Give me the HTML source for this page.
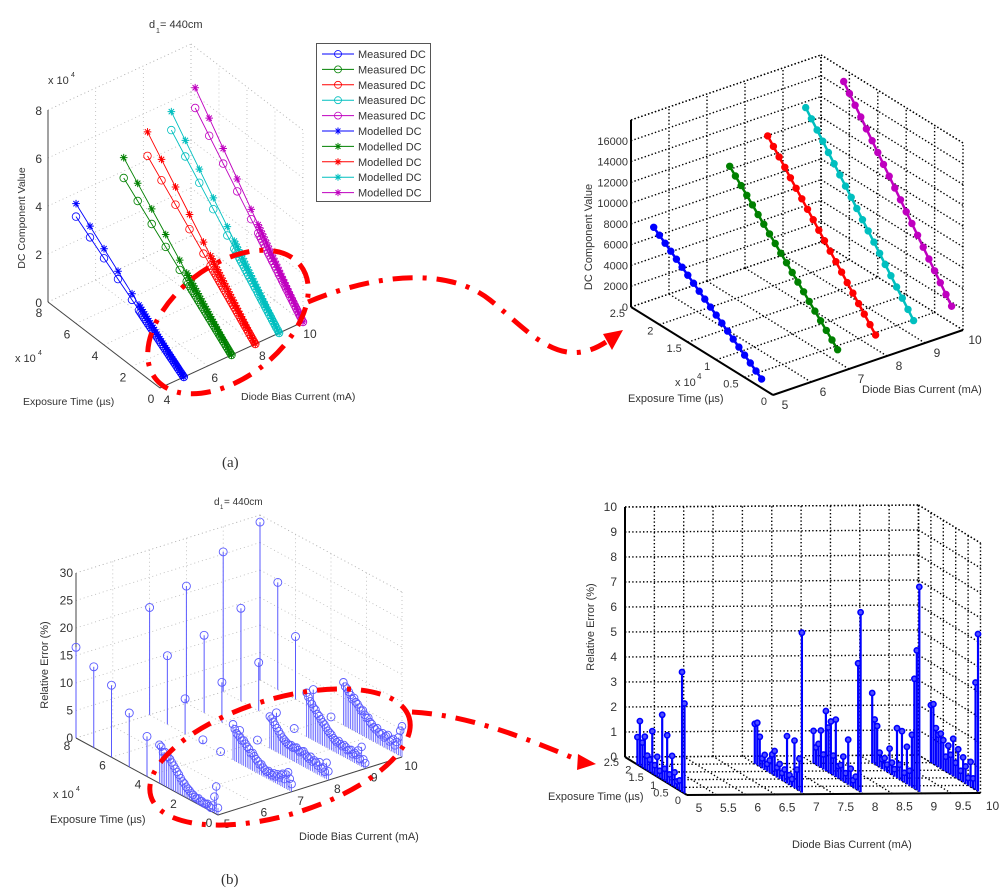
<!DOCTYPE html>
<html><head><meta charset="utf-8"><style>
html,body{margin:0;padding:0;background:#fff;}
svg{display:block;font-family:"Liberation Sans",Arial,sans-serif;}
text{fill:#333;}
</style></head><body>
<svg id="fig" width="1000" height="896" viewBox="0 0 1000 896" xmlns="http://www.w3.org/2000/svg">
<rect width="1000" height="896" fill="#fff"/>
<g id="panelA"></g>
<g id="panelB"></g>
<g id="panelC"></g>
<g id="panelD"></g>
<g id="annot"></g>
</svg>
<script>
// ---------- DATA ----------
const currentsA = [5, 7, 8, 9, 10];
const exposureA = [0,1000,2000,3000,4000,5000,6000,7000,8000,9000,10000,11000,12000,13000,14000,15000,16000,17000,18000,19000,20000,21000,22000,23000,24000,25000,26000,27000,28000,29000,30000,31000,32000,37000,47000,57000,67000,77000];
const measuredSlopeA = [0.42, 0.51, 0.57, 0.65, 0.71];
const modelledSlopeA = [0.49, 0.62, 0.70, 0.75, 0.82];
const currentsB = [5, 7, 8, 9, 10];
const exposureB = [2000,3000,4000,5000,6000,7000,8000,9000,10000,11000,12000,13000,14000,15000,16000,17000,18000,19000,20000,21000];
const slopeB = [0.43, 0.59, 0.67, 0.74, 0.80];
const zTicksB = [0,2000,4000,6000,8000,10000,12000,14000,16000];
const currentsC = [5, 7, 8, 9, 10];
const sparseExpC = [80000, 70000, 60000, 50000, 40000];
const sparseErr5 = [16.5, 14.7, 13.1, 9.8, 7.3];
const sparseErr7 = [19.5, 12.5, 6.4, 0.7, 0.3];
const sparseErr8 = [21.3, 14.1, 7.3, 0.3, 0.3];
const sparseErr9 = [25.4, 16.9, 8.8, 1.4, 0.3];
const sparseErr10 = [28.7, 19.5, 11.4, 3.5, 0.3];
const denseExpC = [33000,32000,31000,30000,29000,28000,27000,26000,25000,24000,23000,22000,21000,20000,19000,18000,17000,16000,15000,14000,13000,12000,11000,10000,9000,8000,7000,6000,5000,4000,3000,2000,1000,0];
const denseErr5 = [7,6.8,6,6.2,5.5,5.6,5.4,5,4.6,4.2,3.8,3.5,3,2.6,2.4,2,1.8,1.6,1.3,1.2,1,0.9,1.1,0.8,0.9,0.7,0.8,1,0.7,0.6,1.2,3,5,1.3];
const denseErr7 = [6.5,5.8,5.2,5,4.8,4.4,4.6,4.2,3.8,3.6,3,3.2,2.8,2.4,2.2,1.8,2,1.6,1.4,1.2,1.5,1.3,1.1,1.6,1.2,1.8,1.4,2,2.4,1.6,2.6,3.2,2.2,1.4];
const denseErr8 = [5.8,5.6,5.2,4.8,4.4,4,3.6,3.2,3,2.8,2.6,2.5,2.7,2.4,2.6,2.8,2.5,2.3,2.6,2.8,2.4,2.2,2,2.5,1.8,2.2,2,1.6,2.4,1.4,1.8,1.2,3,1.6];
const denseErr9 = [8,7.4,6.8,6.5,6,5.8,5.2,5,4.6,4.2,4,3.6,3.2,3,2.8,2.4,2.2,2,2.4,2,1.8,2.2,2,1.6,1.8,2,1.4,1.8,1.6,2.6,1.2,3.6,1.5,1];
const denseErr10 = [7.8,7.2,7,6.6,6.2,5.6,6,5.4,5.2,4.8,4.4,4.6,4,3.6,3.8,3.2,3,2.6,2.4,2.8,2.2,2,2.4,1.8,2.2,2.6,1.6,2,2.4,1.4,2.2,3.2,4.6,5.6];
const currentsD = [5, 7, 8, 9, 10];
const exposureD = [20000,19000,18000,17000,16000,15000,14000,13000,12000,11000,10000,9000,8000,7000,6000,5000,4000,3000,2000,1000];
const errD5 = [1.1,1.8,1.0,1.3,0.6,0.5,1.7,0.4,0.8,0.3,2.6,0.5,1.9,0.4,1.2,0.6,0.3,0.4,4.8,3.6];
const errD7 = [1.6,1.7,1.2,0.4,0.6,0.3,0.5,0.8,1.0,0.4,0.6,0.3,0.5,1.9,0.4,0.3,1.9,0.8,1.3,6.4];
const errD8 = [1.3,0.7,0.9,1.5,0.6,2.4,1.8,2.1,0.8,2.3,0.5,0.6,1.0,0.4,1.8,0.7,0.3,0.5,5.1,7.2];
const errD9 = [2.8,1.8,1.6,0.6,0.4,0.5,0.3,1.0,0.5,0.3,2.0,0.6,2.0,0.4,1.5,0.6,2.1,4.4,5.6,8.2];
const errD10 = [2.3,2.4,1.5,1.3,1.4,1.2,0.6,1.1,0.8,1.5,0.6,1.2,0.4,1.0,0.7,0.3,1.0,0.4,4.3,6.3];

const colorsA = ['#0000ff','#008000','#ff0000','#00bfbf','#bf00bf'];

// ---------- HELPERS ----------
const NS = 'http://www.w3.org/2000/svg';
function mk(tag, attrs, parent, name) {
  const e = document.createElementNS(NS, tag);
  for (const k in attrs) e.setAttribute(k, attrs[k]);
  
  
  parent.appendChild(e);
  return e;
}
function txt(parent, x, y, s, name, opts) {
  opts = opts || {};
  const a = {x: x, y: y};
  if (opts.anchor) a['text-anchor'] = opts.anchor;
  a['style'] = 'font-size:' + (opts.size || 11) + 'px' + (opts.serif ? ';font-family:"Liberation Serif",serif' : '');
  if (opts.rot) a['transform'] = 'rotate(-90 ' + x + ' ' + y + ')';
  const e = mk('text', a, parent, name);
  e.textContent = s;
  return e;
}
function P(c, x, t, z) {
  return [c.O[0] + (x - c.x0) * c.xv[0] + t * c.tv[0] + z * c.zv[0],
          c.O[1] + (x - c.x0) * c.xv[1] + t * c.tv[1] + z * c.zv[1]];
}
function line(parent, a, b, style, name) {
  const attrs = {x1: a[0], y1: a[1], x2: b[0], y2: b[1]};
  for (const k in style) attrs[k] = style[k];
  return mk('line', attrs, parent, name);
}
function drawBox(c, g, gridStyle, axisStyle, xT, tT, zT) {
  const xm = c.xmax, tm = c.tmax, zm = c.zmax;
  xT.forEach(x => {
    line(g, P(c, x, 0, 0), P(c, x, tm, 0), gridStyle, 'floor-gridline-x');
    line(g, P(c, x, tm, 0), P(c, x, tm, zm), gridStyle, 'back-wall-gridline-x');
  });
  tT.forEach(t => {
    line(g, P(c, c.x0, t, 0), P(c, xm, t, 0), gridStyle, 'floor-gridline-t');
    line(g, P(c, xm, t, 0), P(c, xm, t, zm), gridStyle, 'side-wall-gridline-t');
  });
  zT.forEach(z => {
    line(g, P(c, c.x0, tm, z), P(c, xm, tm, z), gridStyle, 'back-wall-gridline-z');
    line(g, P(c, xm, tm, z), P(c, xm, 0, z), gridStyle, 'side-wall-gridline-z');
  });
  line(g, P(c, c.x0, tm, zm), P(c, xm, tm, zm), gridStyle, 'box-top-edge');
  line(g, P(c, xm, tm, zm), P(c, xm, 0, zm), gridStyle, 'box-top-edge');
  line(g, P(c, xm, tm, 0), P(c, xm, tm, zm), gridStyle, 'box-corner-edge');
  line(g, P(c, c.x0, 0, 0), P(c, xm, 0, 0), axisStyle, 'x-axis-line');
  line(g, P(c, c.x0, 0, 0), P(c, c.x0, tm, 0), axisStyle, 't-axis-line');
  line(g, P(c, c.x0, tm, 0), P(c, c.x0, tm, zm), axisStyle, 'z-axis-line');
}
function circle(g, p, r, stroke, fill, sw, name) {
  return mk('circle', {cx: p[0].toFixed(1), cy: p[1].toFixed(1), r: r, stroke: stroke, fill: fill, 'stroke-width': sw}, g, name);
}
function star(g, p, s, col, name) {
  const d = 'M' + (p[0]-s) + ',' + p[1] + 'H' + (p[0]+s) + 'M' + p[0] + ',' + (p[1]-s) + 'V' + (p[1]+s) +
    'M' + (p[0]-s*0.7) + ',' + (p[1]-s*0.7) + 'L' + (p[0]+s*0.7) + ',' + (p[1]+s*0.7) +
    'M' + (p[0]-s*0.7) + ',' + (p[1]+s*0.7) + 'L' + (p[0]+s*0.7) + ',' + (p[1]-s*0.7);
  return mk('path', {d: d, stroke: col, 'stroke-width': 1, fill: 'none'}, g, name);
}
function poly(g, pts, col, w, name) {
  return mk('polyline', {points: pts.map(p => p[0].toFixed(1) + ',' + p[1].toFixed(1)).join(' '), fill: 'none', stroke: col, 'stroke-width': w}, g, name);
}

// ---------- PANEL A ----------
(function () {
  const g = document.getElementById('panelA');
  const c = {O: [160, 388], x0: 4, xv: [23.83, -11], tv: [-14, -10.75], zv: [0, -24], xmax: 10, tmax: 8, zmax: 8};
  const grid = {stroke: '#b8b8b8', 'stroke-width': 0.8, 'stroke-dasharray': '1 3'};
  const ax = {stroke: '#444', 'stroke-width': 1};
  drawBox(c, g, grid, ax, [4, 6, 8, 10], [0, 2, 4, 6, 8], [0, 2, 4, 6, 8]);
  [4, 6, 8, 10].forEach(x => { const p = P(c, x, 0, 0); txt(g, p[0] + 7, p[1] + 16, String(x), 'x-tick-label', {anchor: 'middle', size: 12}); });
  [0, 2, 4, 6, 8].forEach(t => { const p = P(c, 4, t, 0); txt(g, p[0] - 9, p[1] + 15, String(t), 't-tick-label', {anchor: 'middle', size: 12}); });
  [0, 2, 4, 6, 8].forEach(z => { const p = P(c, 4, 8, z); txt(g, p[0] - 6, p[1] + 5, String(z), 'z-tick-label', {anchor: 'end', size: 12}); });
  txt(g, 48, 84, 'x 10', 'z-exponent-label', {size: 11}); txt(g, 71, 77, '4', 'z-exponent-power', {size: 7});
  txt(g, 15, 362, 'x 10', 't-exponent-label', {size: 11}); txt(g, 38, 355, '4', 't-exponent-power', {size: 7});
  txt(g, 25, 218, 'DC Component Value', 'z-axis-title', {rot: true, anchor: 'middle', size: 10.5});
  txt(g, 23, 405, 'Exposure Time (µs)', 't-axis-title', {size: 10.5});
  txt(g, 241, 400, 'Diode Bias Current (mA)', 'x-axis-title', {size: 10.5});
  txt(g, 149, 28, 'd', 'chart-title', {size: 11}); txt(g, 156, 33, '1', 'chart-title-sub', {size: 7}); txt(g, 160, 28, '= 440cm', 'chart-title', {size: 11});
  currentsA.forEach((cur, i) => {
    const col = colorsA[i];
    const mp = exposureA.map(t => P(c, cur, t / 1e4, measuredSlopeA[i] * t / 1e4));
    const dp = exposureA.map(t => P(c, cur, t / 1e4, modelledSlopeA[i] * t / 1e4));
    poly(g, mp, col, 0.9, 'measured-dc-line');
    poly(g, dp, col, 0.9, 'modelled-dc-line');
    mp.forEach(p => circle(g, p, 3.8, col, 'none', 0.8, 'measured-dc-marker'));
    dp.forEach(p => star(g, p, 3.8, col, 'modelled-dc-marker'));
  });
  const lg = mk('g', {}, g, 'legend');
  mk('rect', {x: 316.5, y: 43.5, width: 114, height: 158, fill: '#fff', stroke: '#555', 'stroke-width': 1}, lg, 'legend-box');
  for (let k = 0; k < 10; k++) {
    const y = 54 + k * 15.4, col = colorsA[k % 5];
    const e = mk('g', {}, lg, 'legend-entry');
    line(e, [322, y], [354, y], {stroke: col, 'stroke-width': 1}, 'legend-swatch-line');
    if (k < 5) circle(e, [338, y], 3.5, col, 'none', 0.8, 'legend-marker');
    else star(e, [338, y], 3.5, col, 'legend-marker');
    txt(e, 358, y + 4, k < 5 ? 'Measured DC' : 'Modelled DC', 'legend-label', {size: 11});
  }
})();

// ---------- PANEL B ----------
(function () {
  const g = document.getElementById('panelB');
  const c = {O: [773, 395], x0: 5, xv: [38, -13], tv: [-56.8, -35.2], zv: [0, -0.01039], xmax: 10, tmax: 2.5, zmax: 18000};
  const grid = {stroke: '#000', 'stroke-width': 1.4, 'stroke-dasharray': '1.4 2.2'};
  const ax = {stroke: '#000', 'stroke-width': 2};
  drawBox(c, g, grid, ax, [5, 6, 7, 8, 9, 10], [0, 0.5, 1, 1.5, 2, 2.5], [0, 2000, 4000, 6000, 8000, 10000, 12000, 14000, 16000, 18000]);
  [5, 6, 7, 8, 9, 10].forEach(x => { const p = P(c, x, 0, 0); txt(g, p[0] + 12, p[1] + 14, String(x), 'x-tick-label', {anchor: 'middle', size: 12}); });
  [0, 0.5, 1, 1.5, 2, 2.5].forEach(t => { const p = P(c, 5, t, 0); txt(g, p[0] - 6, p[1] + 10, String(t), 't-tick-label', {anchor: 'end', size: 11}); });
  zTicksB.forEach(z => { const p = P(c, 5, 2.5, z); txt(g, p[0] - 3, p[1] + 4, String(z), 'z-tick-label', {anchor: 'end', size: 11}); });
  txt(g, 675, 386, 'x 10', 't-exponent-label', {size: 11}); txt(g, 697, 379, '4', 't-exponent-power', {size: 8});
  txt(g, 592, 237, 'DC Component Value', 'z-axis-title', {rot: true, anchor: 'middle', size: 11});
  txt(g, 628, 402, 'Exposure Time (µs)', 't-axis-title', {size: 11});
  txt(g, 862, 393, 'Diode Bias Current (mA)', 'x-axis-title', {size: 11});
  currentsB.forEach((cur, i) => {
    const col = colorsA[i];
    const pts = exposureB.map(t => P(c, cur, t / 1e4, slopeB[i] * t));
    poly(g, pts, col, 2.5, 'dc-series-line');
    pts.forEach(p => circle(g, p, 3.2, col, col, 1, 'dc-series-marker'));
  });
})();

// ---------- PANEL C ----------
(function () {
  const g = document.getElementById('panelC');
  const c = {O: [218, 815], x0: 5, xv: [36.8, -11.6], tv: [-17.75, -9.625], zv: [0, -5.5], xmax: 10, tmax: 8, zmax: 30};
  const grid = {stroke: '#b8b8b8', 'stroke-width': 0.8, 'stroke-dasharray': '1 3'};
  const ax = {stroke: '#444', 'stroke-width': 1};
  drawBox(c, g, grid, ax, [5, 6, 7, 8, 9, 10], [0, 2, 4, 6, 8], [0, 5, 10, 15, 20, 25, 30]);
  [5, 6, 7, 8, 9, 10].forEach(x => { const p = P(c, x, 0, 0); txt(g, p[0] + 9, p[1] + 13, String(x), 'x-tick-label', {anchor: 'middle', size: 12}); });
  [0, 2, 4, 6, 8].forEach(t => { const p = P(c, 5, t, 0); txt(g, p[0] - 9, p[1] + 12, String(t), 't-tick-label', {anchor: 'middle', size: 12}); });
  [0, 5, 10, 15, 20, 25, 30].forEach(z => { const p = P(c, 5, 8, z); txt(g, p[0] - 3, p[1] + 4, String(z), 'z-tick-label', {anchor: 'end', size: 12}); });
  txt(g, 53, 798, 'x 10', 't-exponent-label', {size: 11}); txt(g, 76, 791, '4', 't-exponent-power', {size: 7});
  txt(g, 48, 665, 'Relative Error (%)', 'z-axis-title', {rot: true, anchor: 'middle', size: 11});
  txt(g, 50, 823, 'Exposure Time (µs)', 't-axis-title', {size: 11});
  txt(g, 299, 840, 'Diode Bias Current (mA)', 'x-axis-title', {size: 11});
  txt(g, 214, 505, 'd', 'chart-title', {size: 10}); txt(g, 220, 509, '1', 'chart-title-sub', {size: 6}); txt(g, 224, 505, '= 440cm', 'chart-title', {size: 10});
  const sparse = [sparseErr5, sparseErr7, sparseErr8, sparseErr9, sparseErr10];
  const dense = [denseErr5, denseErr7, denseErr8, denseErr9, denseErr10];
  const col = '#5a5aff';
  currentsC.forEach((cur, i) => {
    sparseExpC.forEach((t, j) => {
      const b = P(c, cur, t / 1e4, 0), p = P(c, cur, t / 1e4, sparse[i][j]);
      line(g, b, p, {stroke: col, 'stroke-width': 1}, 'error-stem');
      circle(g, p, 4, col, 'none', 0.9, 'error-marker');
    });
    denseExpC.forEach((t, j) => {
      const b = P(c, cur, t / 1e4, 0), p = P(c, cur, t / 1e4, dense[i][j]);
      line(g, b, p, {stroke: col, 'stroke-width': 0.8}, 'error-stem');
      circle(g, p, 3.8, col, 'none', 0.9, 'error-marker');
    });
  });
})();

// ---------- PANEL D ----------
(function () {
  const g = document.getElementById('panelD');
  const c = {O: [687, 795], x0: 5, xv: [58.7, -0.4], tv: [-24.8, -15.2], zv: [0, -25], xmax: 10, tmax: 2.5, zmax: 10};
  const grid = {stroke: '#000', 'stroke-width': 1.4, 'stroke-dasharray': '1.4 2.2'};
  const ax = {stroke: '#000', 'stroke-width': 2};
  const xT = [5, 5.5, 6, 6.5, 7, 7.5, 8, 8.5, 9, 9.5, 10];
  drawBox(c, g, grid, ax, xT, [0, 0.5, 1, 1.5, 2, 2.5], [0, 1, 2, 3, 4, 5, 6, 7, 8, 9, 10]);
  xT.forEach(x => { const p = P(c, x, 0, 0); txt(g, p[0] + 12, p[1] + 17, String(x), 'x-tick-label', {anchor: 'middle', size: 12}); });
  [0, 0.5, 1, 1.5, 2, 2.5].forEach(t => { const p = P(c, 5, t, 0); txt(g, p[0] - 6, p[1] + 9, String(t), 't-tick-label', {anchor: 'end', size: 11}); });
  [0, 1, 2, 3, 4, 5, 6, 7, 8, 9, 10].forEach(z => { const p = P(c, 5, 2.5, z); txt(g, p[0] - 8, p[1] + 4, String(z), 'z-tick-label', {anchor: 'end', size: 12}); });
  txt(g, 594, 627, 'Relative Error (%)', 'z-axis-title', {rot: true, anchor: 'middle', size: 11});
  txt(g, 548, 800, 'Exposure Time (µs)', 't-axis-title', {size: 11});
  txt(g, 792, 848, 'Diode Bias Current (mA)', 'x-axis-title', {size: 11});
  const vals = [errD5, errD7, errD8, errD9, errD10];
  currentsD.forEach((cur, i) => {
    exposureD.forEach((t, j) => {
      const b = P(c, cur, t / 1e4, 0), p = P(c, cur, t / 1e4, vals[i][j]);
      line(g, b, p, {stroke: '#0000ff', 'stroke-width': 2.2}, 'error-stem');
      circle(g, p, 2.6, '#0000ff', '#5050ff', 1.6, 'error-marker');
    });
  });
})();

// ---------- ANNOTATIONS ----------
(function () {
  const g = document.getElementById('annot');
  const red = {fill: 'none', stroke: '#ff0000', 'stroke-width': 5, 'stroke-dasharray': '20 10 4 10'};
  mk('ellipse', Object.assign({cx: 228, cy: 322, rx: 92, ry: 56, transform: 'rotate(-38 228 322)'}, red), g, 'highlight-ellipse-a');
  mk('path', Object.assign({d: 'M308,302 C380,272 450,268 490,300 S560,372 606,342'}, red), g, 'connector-arrow-a');
  mk('path', {d: 'M623,330 L603,334 L612,350 Z', fill: '#ff0000'}, g, 'arrowhead-a');
  mk('ellipse', Object.assign({cx: 280, cy: 757, rx: 135, ry: 58, transform: 'rotate(-17 280 757)'}, red), g, 'highlight-ellipse-b');
  mk('path', Object.assign({d: 'M412,712 C470,715 530,740 578,760'}, red), g, 'connector-arrow-b');
  mk('path', {d: 'M596,764 L578,754 L577,770 Z', fill: '#ff0000'}, g, 'arrowhead-b');
  txt(g, 222, 467, '(a)', 'subfigure-label-a', {size: 15, serif: true});
  txt(g, 221, 884, '(b)', 'subfigure-label-b', {size: 15, serif: true});
})();
</script>
</body></html>
